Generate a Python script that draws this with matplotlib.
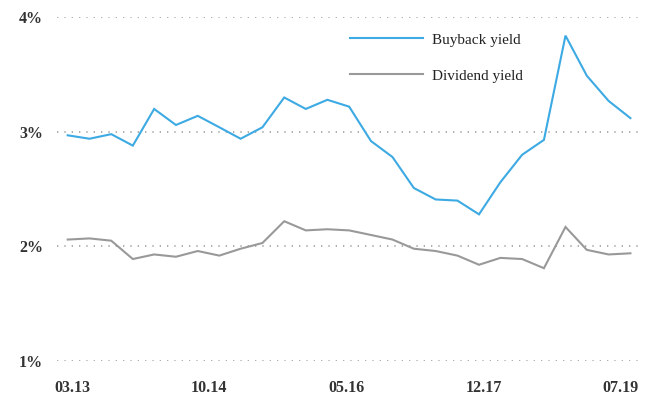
import matplotlib
matplotlib.use("Agg")
import matplotlib.pyplot as plt
import pandas as pd

# Quarterly observations, March 2013 to September 2019
dates = pd.date_range("2013-03-01", "2019-09-01", freq="3MS")

buyback_yield = [2.97, 2.94, 2.98, 2.88, 3.20, 3.06, 3.14, 3.04, 2.94, 3.04,
                 3.30, 3.20, 3.28, 3.22, 2.92, 2.78, 2.51, 2.41, 2.40, 2.28,
                 2.56, 2.80, 2.93, 3.84, 3.49, 3.27, 3.12]
dividend_yield = [2.06, 2.07, 2.05, 1.89, 1.93, 1.91, 1.96, 1.92, 1.98, 2.03,
                  2.22, 2.14, 2.15, 2.14, 2.10, 2.06, 1.98, 1.96, 1.92, 1.84,
                  1.90, 1.89, 1.81, 2.17, 1.97, 1.93, 1.94]

tick_dates = pd.to_datetime(["2013-03-20", "2014-10-20", "2016-05-20",
                             "2017-12-20", "2019-07-20"])
tick_labels = ["03.13", "10.14", "05.16", "12.17", "07.19"]
y_ticks = [1, 2, 3, 4]
y_labels = ["1%", "2%", "3%", "4%"]

plt.rcParams["font.family"] = ["Liberation Serif", "DejaVu Serif"]

fig = plt.figure(figsize=(6.68, 3.97), dpi=100)
ax = fig.add_axes([57 / 668, 36 / 397, 581 / 668, 343.7 / 397])

ax.plot(dates, buyback_yield, color="#3DAAE3", lw=1.5, label="Buyback yield",
        solid_joinstyle="miter")
ax.plot(dates, dividend_yield, color="#999999", lw=1.5, label="Dividend yield",
        solid_joinstyle="miter")

ax.set_ylim(1, 4)
ax.set_xlim(pd.Timestamp("2013-01-15"), pd.Timestamp("2019-10-03"))

ax.set_yticks(y_ticks)
ax.set_yticklabels(y_labels)
ax.set_xticks(tick_dates)
ax.set_xticklabels(tick_labels)

ax.grid(axis="y", color="#a0a0a0", lw=1.2, linestyle=(0, (0.8, 3.6)))
ax.grid(axis="x", visible=False)
ax.set_axisbelow(True)

for s in ax.spines.values():
    s.set_visible(False)
ax.tick_params(axis="both", length=0, labelsize=11.5, colors="#333333")
ax.tick_params(axis="y", pad=10)
ax.tick_params(axis="x", pad=14)
for lab in ax.get_xticklabels() + ax.get_yticklabels():
    lab.set_fontweight("bold")

leg = ax.legend(loc="upper left", bbox_to_anchor=(350 / 668, 1 - 33 / 397),
                bbox_transform=fig.transFigure, frameon=False, borderpad=0,
                borderaxespad=0, handlelength=4.8, handletextpad=0.6,
                labelspacing=1.45, prop={"size": 11})
for t in leg.get_texts():
    t.set_color("#222222")

fig.savefig("out.png", dpi=100)
